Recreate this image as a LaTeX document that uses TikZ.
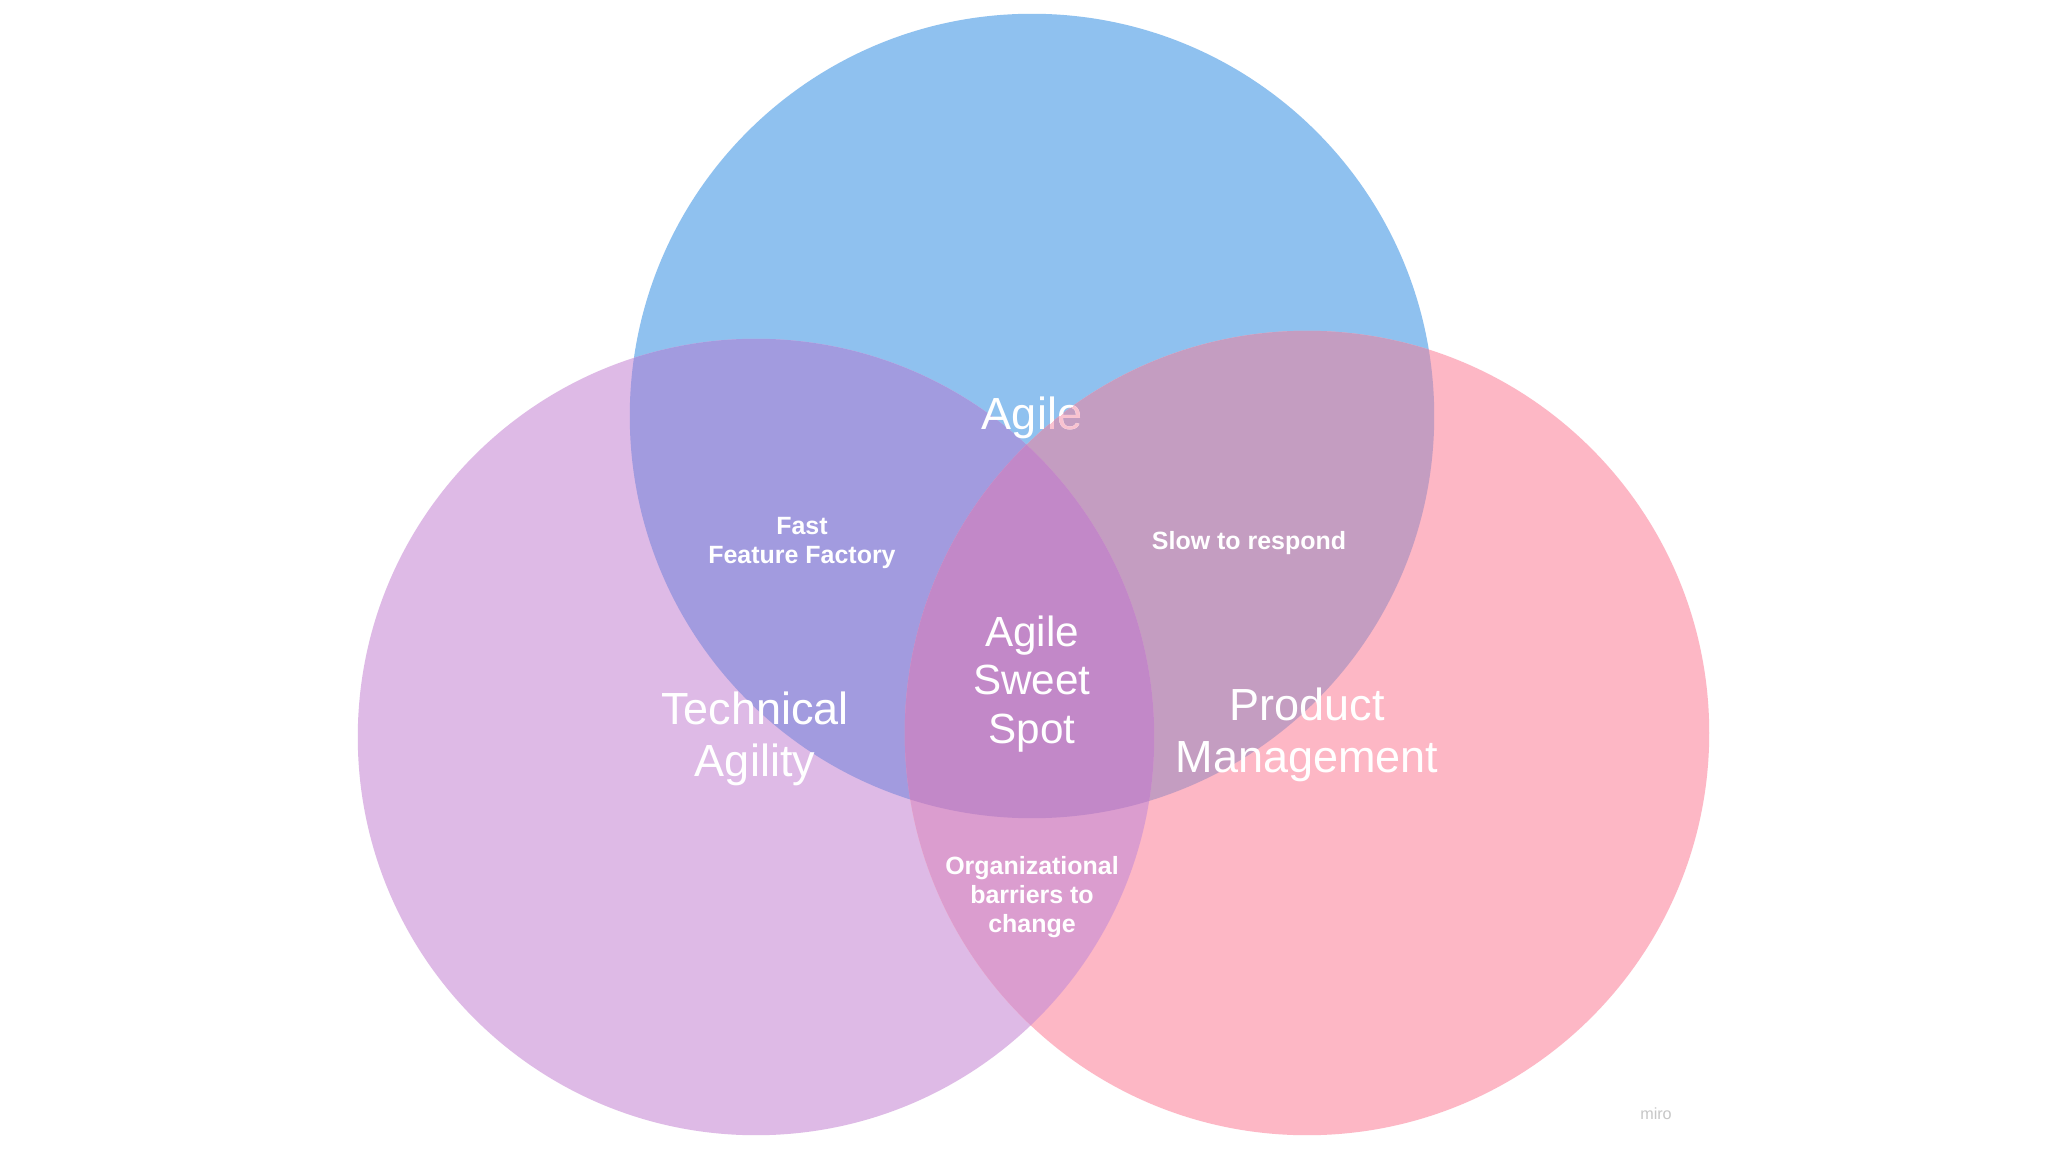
\documentclass[tikz,border=0pt]{standalone}
\usepackage{fontspec}
\setmainfont{Liberation Sans}
\definecolor{agileblue}{HTML}{8FC1EF}
\definecolor{techpurple}{HTML}{DEBAE6}
\definecolor{prodpink}{HTML}{FDB7C5}
\definecolor{fastcol}{HTML}{A29BDF}
\definecolor{slowcol}{HTML}{C49DC1}
\definecolor{orgcol}{HTML}{DB9DCF}
\definecolor{sweetcol}{HTML}{C288C8}
\definecolor{agiletint}{HTML}{F9C2D0}
\begin{document}
\begin{tikzpicture}[x=0.01cm, y=-0.01cm]
  \tikzset{big/.style={text=white, align=center, font=\fontsize{12.8}{14.8}\selectfont},
           small/.style={text=white, align=center, font=\fontsize{7.1}{8.2}\selectfont\bfseries}}
  \useasboundingbox[fill=white] (0,0) rectangle (2048,1152);
  \coordinate (agileC) at (1032,416);
  \coordinate (techC) at (756,737);
  \coordinate (prodC) at (1307,733);
  \def\rad{4.02cm}
  \def\tecrad{3.98cm}

  % circles
  \fill[agileblue] (agileC) circle[radius=\rad];
  \fill[techpurple] (techC) circle[radius=\tecrad];
  \fill[prodpink] (prodC) circle[radius=\rad];

  % overlaps
  \begin{scope}
    \clip (agileC) circle[radius=\rad];
    \fill[fastcol] (techC) circle[radius=\tecrad];
    \fill[slowcol] (prodC) circle[radius=\rad];
  \end{scope}
  \begin{scope}
    \clip (techC) circle[radius=\tecrad];
    \fill[orgcol] (prodC) circle[radius=\rad];
  \end{scope}
  \begin{scope}
    \clip (agileC) circle[radius=\rad];
    \clip (techC) circle[radius=\tecrad];
    \fill[sweetcol] (prodC) circle[radius=\rad];
  \end{scope}

  % labels
  \node[big] (agile) at (1032,418) {Agile};
  \begin{scope}
    \clip (prodC) circle[radius=\rad];
    \node[big, text=agiletint] (agiletinted) at (1032,418) {Agile};
  \end{scope}
  \node[big] (tech) at (755,739) {Technical\\Agility};
  \node[big] (product) at (1307,735) {Product\\Management};
  \node[big, font=\fontsize{12}{13.9}\selectfont] (sweet) at (1032,684) {Agile\\Sweet\\Spot};
  \node[small] (fast) at (802,543) {Fast\\Feature Factory};
  \node[small] (slow) at (1249,543) {Slow to respond};
  \node[small] (org) at (1032,897) {Organizational\\barriers to\\change};
  \node[text=black!22, font=\fontsize{4.6}{5}\selectfont] (miro) at (1656,1114) {miro};
\end{tikzpicture}
\end{document}
